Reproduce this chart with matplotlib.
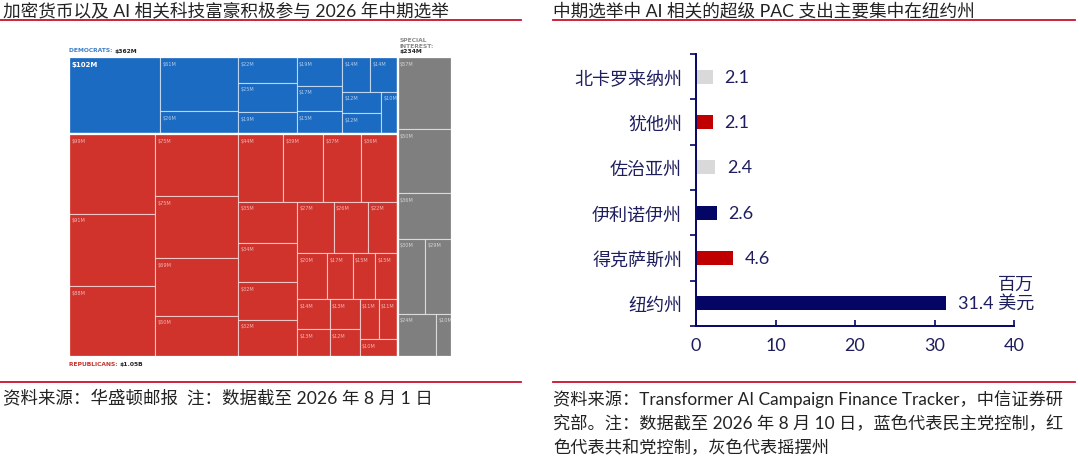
import matplotlib
matplotlib.use("Agg")
import matplotlib.pyplot as plt
from matplotlib.patches import Rectangle
from matplotlib.lines import Line2D
import numpy as np

plt.rcParams['font.family'] = ['Lato', 'Noto Sans CJK SC', 'DejaVu Sans']

# ---- left: treemap of donors ($M), nested lists alternate split direction
dem_tree = [102, [61, 26], [22, 25, 19], [19, 17, 15], [[14, 14], [[12, 12], 10]]]
rep_tree = [[99, 91, 88], [75, 75, 69, 50],
            [[44, 39, 37, 36],
             [[35, 34, 32, 32],
              [[27, 26, 22], [20, 17, 15, 15],
               [[[14, 13], [13, 12]], [[11, 11], 10]]]]]]
spec_tree = [57, 50, 36, [30, 29], [24, 10]]
dem_total = "$362M"
rep_total = "$1.05B"
spec_total = "$234M"

# ---- right: AI super PAC spending by state ($M)
states = ["北卡罗来纳州", "犹他州", "佐治亚州", "伊利诺伊州", "得克萨斯州", "纽约州"]
spend = [2.1, 2.1, 2.4, 2.6, 4.6, 31.4]
party = ["swing", "rep", "swing", "dem", "rep", "dem"]

title_left = "加密货币以及 AI 相关科技富豪积极参与 2026 年中期选举"
title_right = "中期选举中 AI 相关的超级 PAC 支出主要集中在纽约州"
source_left = "资料来源：华盛顿邮报  注：数据截至 2026 年 8 月 1 日"
source_right = ["资料来源：Transformer AI Campaign Finance Tracker，中信证券研",
                "究部。注：数据截至 2026 年 8 月 10 日，蓝色代表民主党控制，红",
                "色代表共和党控制，灰色代表摇摆州"]

BLUE = "#1c6bc2"
RED = "#d0322c"
GRAY = "#7f7f7f"
NAVY = "#050566"
TXT = "#1e1e5e"
LINE_RED = "#c8102e"
bar_colors = {"dem": NAVY, "rep": "#c00000", "swing": "#d9d9d9"}


def tsum(node):
    if isinstance(node, list):
        return sum(tsum(c) for c in node)
    return node


def layout(node, x0, y0, x1, y1, split_x, out):
    if not isinstance(node, list):
        out.append((x0, y0, x1, y1, node))
        return
    total = tsum(node)
    pos = x0 if split_x else y0
    for child in node:
        frac = tsum(child) / total
        if split_x:
            nxt = pos + frac * (x1 - x0)
            layout(child, pos, y0, nxt, y1, not split_x, out)
        else:
            nxt = pos + frac * (y1 - y0)
            layout(child, x0, pos, x1, nxt, not split_x, out)
        pos = nxt


fig = plt.figure(figsize=(10.8, 4.64), dpi=100)
W, H = 1080, 464

# titles and red rules
fig.text(3 / W, 1 - 11 / H, title_left, fontsize=12.7, color="#222222", va="center")
fig.text(553 / W, 1 - 11 / H, title_right, fontsize=12.7, color="#222222", va="center")
for xa, xb in [(0, 521), (553, 1075)]:
    fig.add_artist(Line2D([xa / W, xb / W], [1 - 21 / H] * 2, color=LINE_RED, lw=1.3))
    fig.add_artist(Line2D([xa / W, xb / W], [1 - 383 / H] * 2, color=LINE_RED, lw=1.3))
fig.text(3 / W, 1 - 398 / H, source_left, fontsize=12.6, color="#222222", va="center")
for i, line in enumerate(source_right):
    fig.text(553 / W, 1 - (399 + 24.5 * i) / H, line, fontsize=12.4, color="#222222", va="center")

# ---- treemap
ax1 = fig.add_axes([69 / W, 1 - 358 / H, 383 / W, 300 / H])
ax1.set_xlim(0, 1)
ax1.set_ylim(1, 0)
ax1.axis("off")

d_sum, r_sum, s_sum = tsum(dem_tree), tsum(rep_tree), tsum(spec_tree)
grand = d_sum + r_sum + s_sum
x_split = (d_sum + r_sum) / grand
y_split = d_sum / (d_sum + r_sum)
blocks = [(dem_tree, (0, 0, x_split, y_split), BLUE, True),
          (rep_tree, (0, y_split, x_split, 1), RED, True),
          (spec_tree, (x_split, 0, 1, 1), GRAY, False)]

for tree, (bx0, by0, bx1, by1), col, sx in blocks:
    cells = []
    layout(tree, bx0, by0, bx1, by1, sx, cells)
    for x0, y0, x1, y1, v in cells:
        ax1.add_patch(Rectangle((x0, y0), x1 - x0, y1 - y0, facecolor=col,
                                edgecolor=(1, 1, 1, 0.55), lw=0.8))
        big = v >= 100
        ax1.text(x0 + 0.006, y0 + 0.012, f"${v}M", fontsize=5 if big else 3.6,
                 color="white", alpha=1 if big else 0.65,
                 fontweight="bold" if big else "normal", va="top", ha="left",
                 family="DejaVu Sans")
    ax1.add_patch(Rectangle((bx0, by0), bx1 - bx0, by1 - by0, fill=False,
                            edgecolor="white", lw=1.6))

small = dict(fontsize=4.3, fontweight="bold", family="DejaVu Sans")
t = ax1.text(0, -0.015, "DEMOCRATS: ", color="#3d7fc6", va="bottom", ha="left",
             clip_on=False, **small)
ax1.annotate(dem_total, xy=(1, 0), xycoords=t, color="#222222", va="bottom", ha="left", **small)
t = ax1.text(0, 1.015, "REPUBLICANS: ", color="#c8322c", va="top", ha="left",
             clip_on=False, **small)
ax1.annotate(rep_total, xy=(1, 1), xycoords=t, color="#222222", va="top", ha="left", **small)
t = ax1.text(x_split + 0.005, -0.013, spec_total, color="#222222", va="bottom", ha="left",
             clip_on=False, **small)
ax1.annotate("SPECIAL\nINTEREST:", xy=(0, 1), xycoords=t, color="#8a8a8a", va="bottom",
             ha="left", linespacing=1.15, **small)

# ---- bar chart
ax2 = fig.add_axes([696 / W, 1 - 327 / H, 318 / W, 272 / H])
ypos = np.arange(len(states))
ax2.barh(ypos, spend, height=0.31, color=[bar_colors[p] for p in party])
ax2.set_ylim(len(states) - 0.5, -0.5)
ax2.set_xlim(0, 40)
ax2.set_xticks(np.arange(0, 41, 10))
ax2.set_yticks(np.arange(-0.5, len(states), 1))
ax2.set_yticklabels([])
ax2.set_yticks(ypos, minor=True)
ax2.set_yticklabels(states, minor=True, fontsize=13, color=TXT)
ax2.tick_params(axis="y", which="major", direction="out", length=4, color=NAVY, width=1.2)
ax2.tick_params(axis="y", which="minor", length=0, pad=10)
ax2.tick_params(axis="x", direction="in", length=4, color=NAVY, width=1.2,
                labelsize=13, labelcolor=TXT, pad=8)
for s in ["top", "right"]:
    ax2.spines[s].set_visible(False)
for s in ["left", "bottom"]:
    ax2.spines[s].set_color(NAVY)
    ax2.spines[s].set_linewidth(1.4)

for y, v in zip(ypos[:-1], spend[:-1]):
    ax2.text(v + 1.5, y, f"{v}", fontsize=13, color=TXT, va="center", ha="left")
ax2.text(spend[-1] + 1.5, ypos[-1] - 0.22, f"百万\n{spend[-1]} 美元", fontsize=13,
         color=TXT, va="center", ha="left", multialignment="right", linespacing=1.2)

fig.savefig("out.png", dpi=100)
